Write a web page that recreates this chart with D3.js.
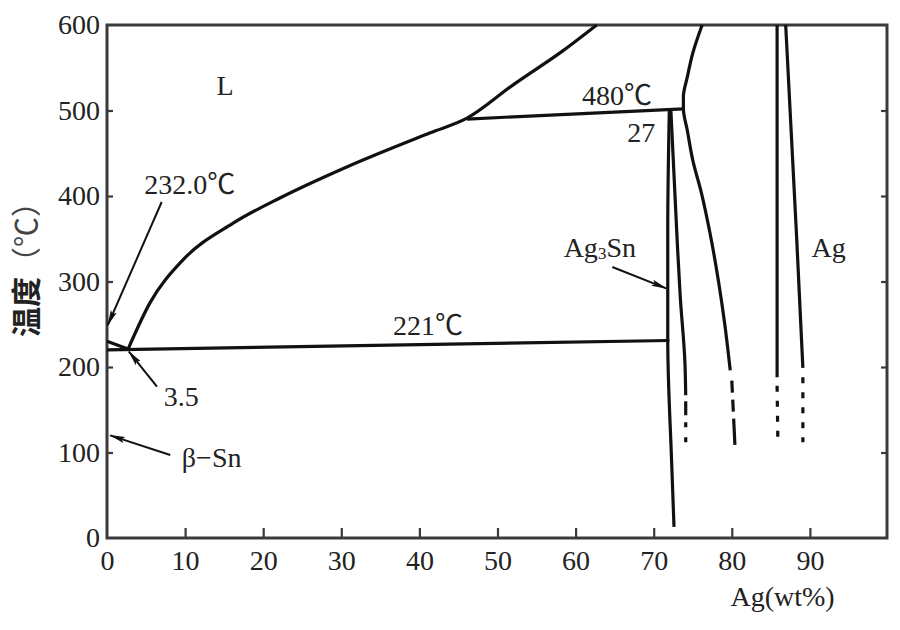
<!DOCTYPE html>
<html>
<head>
<meta charset="utf-8">
<script src="https://cdn.jsdelivr.net/npm/d3@7"></script>
<style>
  html, body { margin: 0; padding: 0; background: #fff; }
  svg { display: block; }
</style>
</head>
<body>
<svg id="chart" width="900" height="630"></svg>
<script>
// ---------- data (wt% Ag, temperature °C) ----------
const xTicks = [0, 10, 20, 30, 40, 50, 60, 70, 80, 90];
const yTicks = [0, 100, 200, 300, 400, 500, 600];

const liquidusSn = [[0, 230], [2.7, 221]];
const liquidus = [[2.7, 221], [5.5, 275], [9.7, 325], [16.1, 368], [22.2, 398], [30.7, 434],
                  [41.4, 474], [46.1, 491], [52, 530], [58.4, 570], [62.7, 600]];
const peritectic = [[46.1, 490], [73.8, 502]];
const eutectic = [[0, 220], [72.0, 231]];
const ag3snLeft = [[72.0, 501], [71.8, 360], [71.8, 232], [72.3, 88], [72.6, 13]];
const ag3snRight = [[72.2, 500], [73.0, 349], [73.4, 282], [74.0, 205], [74.1, 167]];
const ag3snRightDash = [[74.1, 160], [74.1, 105]];
const zetaCurve = [[76.2, 600], [75.0, 567], [74.3, 539], [73.8, 516], [73.8, 502], [74.3, 477],
                   [75.0, 442], [76.1, 404], [77.2, 357], [78.3, 300], [79.1, 250], [79.8, 196]];
const zetaCurveDash = [[80.0, 184], [80.4, 109]];
const agLeft = [[85.8, 600], [85.8, 188]];
const agLeftDash = [[85.8, 178], [85.9, 112]];
const agRight = [[86.9, 600], [88.3, 352], [89.1, 199]];
const agRightDash = [[89.1, 188], [89.1, 112]];

const labels = [
  { text: "L", x: 15.1, y: 529 },
  { text: "232.0℃", x: 10.6, y: 413 },
  { text: "480℃", x: 65.3, y: 518 },
  { text: "27", x: 68.4, y: 474 },
  { text: "221℃", x: 41.1, y: 249 },
  { text: "3.5", x: 9.5, y: 165 },
  { text: "β−Sn", x: 13.4, y: 94 },
  { text: "Ag3Sn", x: 63.1, y: 340 },
  { text: "Ag", x: 92.4, y: 340 }
];
const arrows = [
  { from: [7.0, 393], to: [0.1, 249] },
  { from: [6.4, 177], to: [2.8, 218] },
  { from: [8.1, 97], to: [0.4, 120] },
  { from: [64.7, 317], to: [71.6, 292] }
];

// ---------- layout ----------
const svg = d3.select("#chart");
const mLeft = 107, mRight = 887, mTop = 25, mBottom = 538;
const x = d3.scaleLinear().domain([0, 100]).range([mLeft, mRight + 1]);
const y = d3.scaleLinear().domain([0, 600]).range([mBottom, mTop]);

const serif = "'Liberation Serif', 'Times New Roman', 'Noto Sans CJK SC', serif";
const ink = "#111";
const axisCol = "#3a3a3a";

svg.append("defs").append("marker")
  .attr("id", "arrow").attr("viewBox", "0 0 16 8")
  .attr("refX", 15).attr("refY", 4)
  .attr("markerWidth", 16).attr("markerHeight", 8)
  .attr("markerUnits", "userSpaceOnUse")
  .attr("orient", "auto")
  .append("path").attr("d", "M0,0.8 L16,4 L0,7.2 L3,4 Z").attr("fill", ink);

// axes
const xAxis = d3.axisBottom(x).tickValues(xTicks).tickSize(-10).tickSizeOuter(0).tickPadding(12);
const gx = svg.append("g").attr("transform", `translate(0,${mBottom})`).call(xAxis);
const yAxis = d3.axisLeft(y).tickValues(yTicks).tickSize(-6).tickSizeOuter(0).tickPadding(7);
const gy = svg.append("g").attr("transform", `translate(${mLeft},0)`).call(yAxis);
const yAxisR = d3.axisRight(y).tickValues(yTicks.filter(d => d > 0 && d < 600)).tickSize(-6).tickSizeOuter(0).tickFormat("");
const gyr = svg.append("g").attr("transform", `translate(${mRight},0)`).call(yAxisR);
[gx, gy, gyr].forEach(g => {
  g.select(".domain").remove();
  g.selectAll(".tick line").attr("stroke", axisCol).attr("stroke-width", 2.2);
  g.selectAll(".tick text").attr("font-family", serif).attr("font-size", 28).attr("fill", "#222");
});
gx.selectAll(".tick").filter(d => d === 0).select("line").remove();
gy.selectAll(".tick").filter(d => d === 0 || d === 600).select("line").remove();

svg.append("rect")
  .attr("x", mLeft).attr("y", mTop).attr("width", mRight - mLeft).attr("height", mBottom - mTop)
  .attr("fill", "none").attr("stroke", axisCol).attr("stroke-width", 3);

// axis titles
svg.append("text")
  .attr("x", x(86.5)).attr("y", 606)
  .attr("text-anchor", "middle")
  .attr("font-family", serif).attr("font-size", 28).attr("fill", "#222")
  .text("Ag(wt%)");

const yt = svg.append("text")
  .attr("transform", "translate(24,262) rotate(-90)")
  .attr("text-anchor", "middle").attr("dominant-baseline", "central")
  .attr("font-family", "'Noto Sans CJK SC', sans-serif").attr("font-size", 30).attr("fill", "#222");
yt.append("tspan").attr("font-weight", "bold").text("温度");
yt.append("tspan").attr("font-weight", "normal").attr("fill", "#444").text("（℃）");

// curves
const byY = arr => d3.sort(arr, d => d[1]);
const smoothX = d3.line().x(d => x(d[0])).y(d => y(d[1])).curve(d3.curveMonotoneX);
const smoothY = d3.line().x(d => x(d[0])).y(d => y(d[1])).curve(d3.curveMonotoneY);
const straight = d3.line().x(d => x(d[0])).y(d => y(d[1]));
const g = svg.append("g").attr("fill", "none").attr("stroke", ink).attr("stroke-width", 3.2)
  .attr("stroke-linecap", "butt").attr("stroke-linejoin", "round");

g.append("path").attr("d", straight(liquidusSn));
g.append("path").attr("d", smoothX(liquidus));
g.append("path").attr("d", straight(peritectic));
g.append("path").attr("d", straight(eutectic));
g.append("path").attr("d", smoothY(byY(ag3snLeft)));
g.append("path").attr("d", smoothY(byY(ag3snRight)));
g.append("path").attr("d", straight(ag3snRightDash)).attr("stroke-dasharray", "14,7,5,10,5,10");
g.append("path").attr("d", smoothY(byY(zetaCurve)));
g.append("path").attr("d", straight(zetaCurveDash)).attr("stroke-dasharray", "12,7,12,7,30");
g.append("path").attr("d", straight(agLeft));
g.append("path").attr("d", straight(agLeftDash)).attr("stroke-dasharray", "6,9");
g.append("path").attr("d", smoothY(byY(agRight)));
g.append("path").attr("d", straight(agRightDash)).attr("stroke-dasharray", "6,9");

// arrows
svg.append("g").selectAll("line").data(arrows).join("line")
  .attr("x1", d => x(d.from[0])).attr("y1", d => y(d.from[1]))
  .attr("x2", d => x(d.to[0])).attr("y2", d => y(d.to[1]))
  .attr("stroke", ink).attr("stroke-width", 2)
  .attr("marker-end", "url(#arrow)");

// labels
const lt = svg.append("g").selectAll("text").data(labels).join("text")
  .attr("x", d => x(d.x)).attr("y", d => y(d.y))
  .attr("text-anchor", "middle").attr("dominant-baseline", "central")
  .attr("font-family", serif).attr("font-size", 28).attr("fill", "#222");
lt.each(function(d) {
  const t = d3.select(this);
  if (d.text === "Ag3Sn") {
    t.append("tspan").text("Ag");
    t.append("tspan").attr("font-size", 17).attr("dy", 6).text("3");
    t.append("tspan").attr("dy", -6).text("Sn");
  } else {
    t.text(d.text);
  }
});
</script>
</body>
</html>
